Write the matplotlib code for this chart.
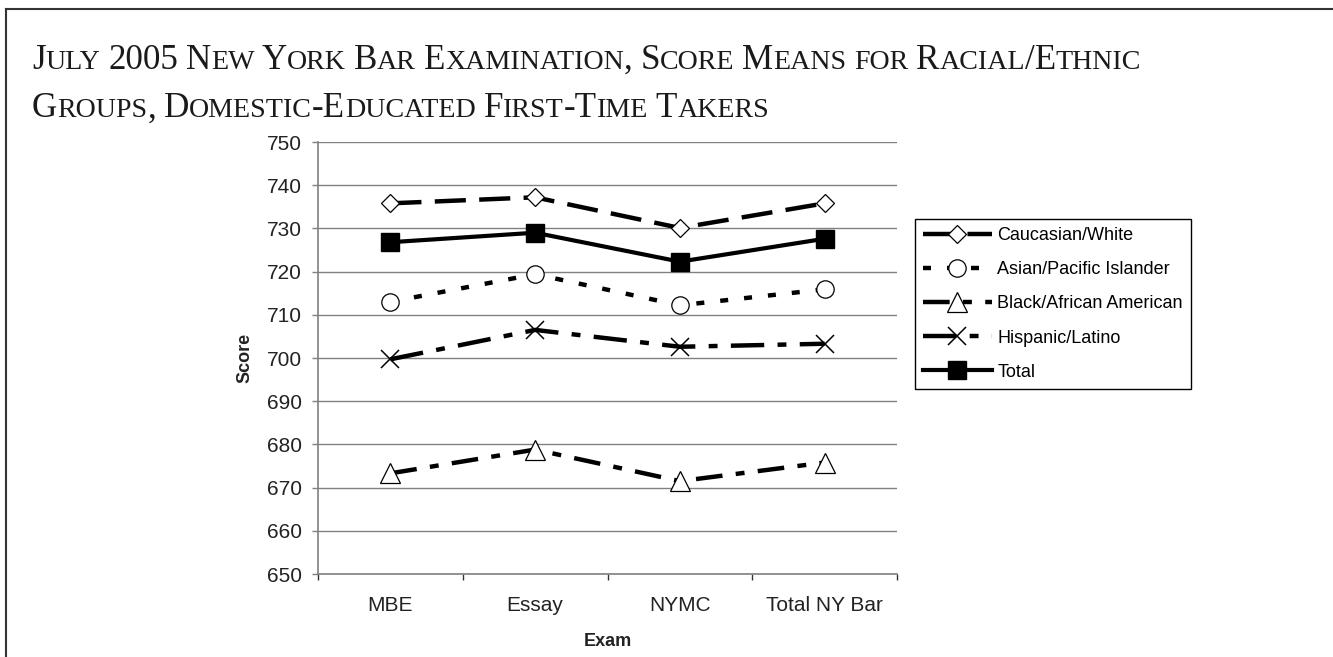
import matplotlib
matplotlib.use('Agg')
import matplotlib.pyplot as plt
from matplotlib.lines import Line2D
from matplotlib.offsetbox import TextArea, HPacker, VPacker, AnchoredOffsetbox

# data
exams = ['MBE', 'Essay', 'NYMC', 'Total NY Bar']
caucasian = [735.8, 737.2, 730.1, 735.8]
asian = [713.0, 719.4, 712.2, 715.9]
black = [673.3, 678.8, 671.5, 675.8]
hispanic = [699.7, 706.5, 702.6, 703.3]
total = [726.8, 729.0, 722.3, 727.6]

title_lines = ['July 2005 New York Bar Examination, Score Means for Racial/Ethnic',
               'Groups, Domestic-Educated First-Time Takers']

W, H = 1333, 657
SANS = 'Liberation Sans'
SERIF = 'Liberation Serif'
FS = 13
TICK_FS = 15

plt.rcParams['font.family'] = SANS

fig = plt.figure(figsize=(W / 100, H / 100), dpi=100)
ax = fig.add_axes([318 / W, 1 - 574 / H, (897 - 318) / W, (574 - 142) / H])

x = list(range(len(exams)))
series = [
    ('Caucasian/White', caucasian, dict(marker='D', ms=9, dashes=(7, 3))),
    ('Asian/Pacific Islander', asian, dict(marker='o', ms=12.5, dashes=(1.8, 3.6))),
    ('Black/African American', black, dict(marker='^', ms=14, dashes=(6, 3, 2, 3))),
    ('Hispanic/Latino', hispanic, dict(marker='x', ms=13, mew=1.1, dashes=(7.5, 3, 2, 3))),
]
for name, vals, st in series:
    ax.plot(x, vals, color='black', lw=3.2, mfc='white', mec='black',
            mew=st.pop('mew', 0.9), label=name, **st)
ax.plot(x, total, color='black', lw=3.0, marker='s', ms=13, mfc='black',
        mec='black', label='Total')

ax.set_xlim(-0.5, 3.5)
ax.set_ylim(650, 750)
ax.set_yticks(range(650, 751, 10))
ax.yaxis.grid(True, color='#808080', lw=1.0)
ax.set_axisbelow(True)

# ticks at the category boundaries, labels at the centres
ax.set_xticks([-0.5, 0.5, 1.5, 2.5, 3.5])
ax.set_xticklabels([])
ax.set_xticks(x, minor=True)
ax.set_xticklabels(exams, minor=True)
ax.tick_params(axis='x', which='major', direction='out', length=4.5, width=1, color='#333333')
ax.tick_params(axis='x', which='minor', length=0, pad=16, labelsize=TICK_FS, labelcolor='#222222')
ax.tick_params(axis='y', direction='out', length=4.5, width=1, color='#808080',
               pad=7, labelsize=TICK_FS, labelcolor='#222222')

for s in ['top', 'right']:
    ax.spines[s].set_visible(False)
for s in ['left', 'bottom']:
    ax.spines[s].set_color('#808080')
    ax.spines[s].set_linewidth(1.2)

ax.set_ylabel('Score', fontsize=FS, fontweight='bold', labelpad=10, color='#222222')
ax.set_xlabel('Exam', fontsize=FS, fontweight='bold', labelpad=13, color='#222222')

leg = ax.legend(loc='upper left', bbox_to_anchor=(915 / W, 1 - 219 / H),
                bbox_transform=fig.transFigure, borderaxespad=0, fontsize=FS,
                frameon=True, fancybox=False, edgecolor='black', framealpha=1,
                handlelength=3.8, handletextpad=0.3, labelspacing=0.95,
                borderpad=0.45, numpoints=1)
leg.get_frame().set_linewidth(1.0)


# title in small caps: lower case letters drawn as smaller capitals
def small_caps_line(text, size, ratio=0.8):
    words = []
    for word in text.split(' '):
        runs = []
        for ch in word:
            small = ch.islower()
            if runs and runs[-1][0] == small:
                runs[-1][1] += ch
            else:
                runs.append([small, ch])
        parts = [TextArea(r.upper(), textprops=dict(fontsize=size * ratio if sm else size,
                                                    family=SERIF, color='#1a1a1a'))
                 for sm, r in runs]
        words.append(HPacker(children=parts, align='baseline', pad=0, sep=0))
    return HPacker(children=words, align='baseline', pad=0, sep=size * 0.22)


title_box = VPacker(children=[small_caps_line(t, 25.2) for t in title_lines],
                    align='left', pad=0, sep=11)
anchored = AnchoredOffsetbox(loc='upper left', child=title_box, pad=0, borderpad=0,
                             frameon=False, bbox_to_anchor=(32 / W, 1 - 44 / H),
                             bbox_transform=fig.transFigure)
fig.add_artist(anchored)

# page frame lines
fig.add_artist(Line2D([6 / W, 1], [1 - 9 / H, 1 - 9 / H], transform=fig.transFigure,
                      color='#333333', lw=1.5))
fig.add_artist(Line2D([6 / W, 6 / W], [0, 1 - 9 / H], transform=fig.transFigure,
                      color='#333333', lw=1.5))

fig.savefig('out.png', dpi=100)
